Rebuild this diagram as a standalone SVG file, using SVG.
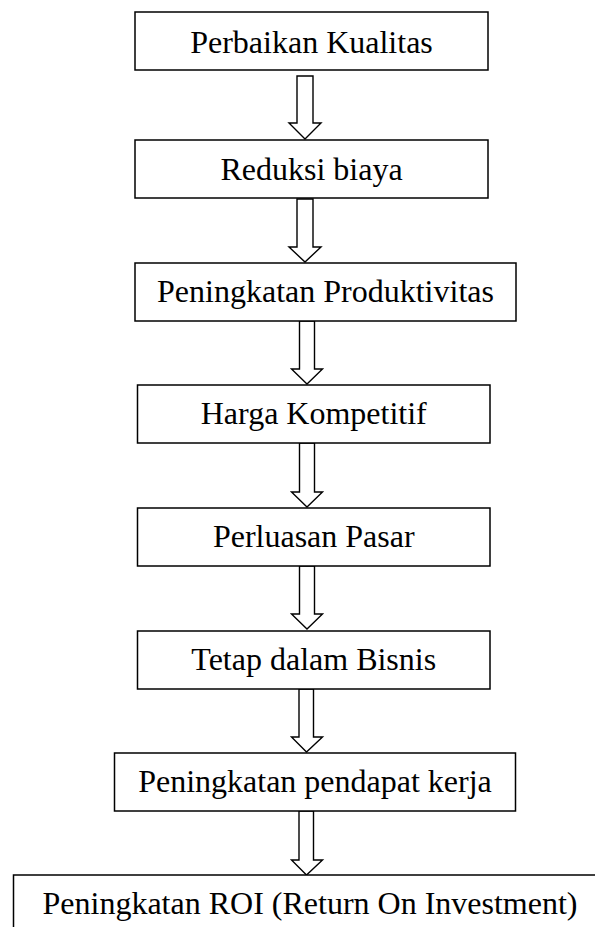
<svg xmlns="http://www.w3.org/2000/svg" width="595" height="927" viewBox="0 0 595 927">
<style>
.box{fill:#fff;stroke:#000;stroke-width:1.5}
.lbl{font-family:"Liberation Serif","Times New Roman",serif;font-size:32px;fill:#000;text-anchor:middle}
.arr{fill:#fff;stroke:#000;stroke-width:1.4;stroke-linejoin:miter}
</style>
<rect width="595" height="927" fill="#fff"/>
<g id="connectors">
<polygon class="arr" points="297,76 313,76 313,123 321,123 305,139 289,123 297,123"/>
<polygon class="arr" points="297,199 313,199 313,247 321,247 305,262 289,247 297,247"/>
<polygon class="arr" points="299.5,321 314.5,321 314.5,369 322.5,369 307,384 291.5,369 299.5,369"/>
<polygon class="arr" points="299.5,443 314.5,443 314.5,492 322.5,492 307,507 291.5,492 299.5,492"/>
<polygon class="arr" points="299.5,566 314.5,566 314.5,614 322.5,614 307,629 291.5,614 299.5,614"/>
<polygon class="arr" points="299,689 313.5,689 313.5,737 322.5,737 306.5,752 291.5,737 299,737"/>
<polygon class="arr" points="299,811 313.5,811 313.5,860 322.5,860 306.5,875 291.5,860 299,860"/>
</g>
<g id="n1"><rect class="box" x="135" y="12" width="353" height="58"/><text class="lbl" x="311.5" y="53">Perbaikan Kualitas</text></g>
<g id="n2"><rect class="box" x="135" y="140" width="353" height="58"/><text class="lbl" x="311.5" y="180">Reduksi biaya</text></g>
<g id="n3"><rect class="box" x="135" y="263" width="381" height="58"/><text class="lbl" x="325.5" y="302">Peningkatan Produktivitas</text></g>
<g id="n4"><rect class="box" x="137.5" y="385" width="352.5" height="58"/><text class="lbl" x="313.75" y="424">Harga Kompetitif</text></g>
<g id="n5"><rect class="box" x="137.5" y="508" width="352.5" height="58"/><text class="lbl" x="313.75" y="547">Perluasan Pasar</text></g>
<g id="n6"><rect class="box" x="137.5" y="631" width="352.5" height="58"/><text class="lbl" x="313.75" y="669.5">Tetap dalam Bisnis</text></g>
<g id="n7"><rect class="box" x="114.5" y="753" width="401" height="58"/><text class="lbl" x="315" y="792">Peningkatan pendapat kerja</text></g>
<g id="n8"><rect class="box" x="13.5" y="875" width="600" height="70"/><text class="lbl" x="310" y="914">Peningkatan ROI (Return On Investment)</text></g>
</svg>
